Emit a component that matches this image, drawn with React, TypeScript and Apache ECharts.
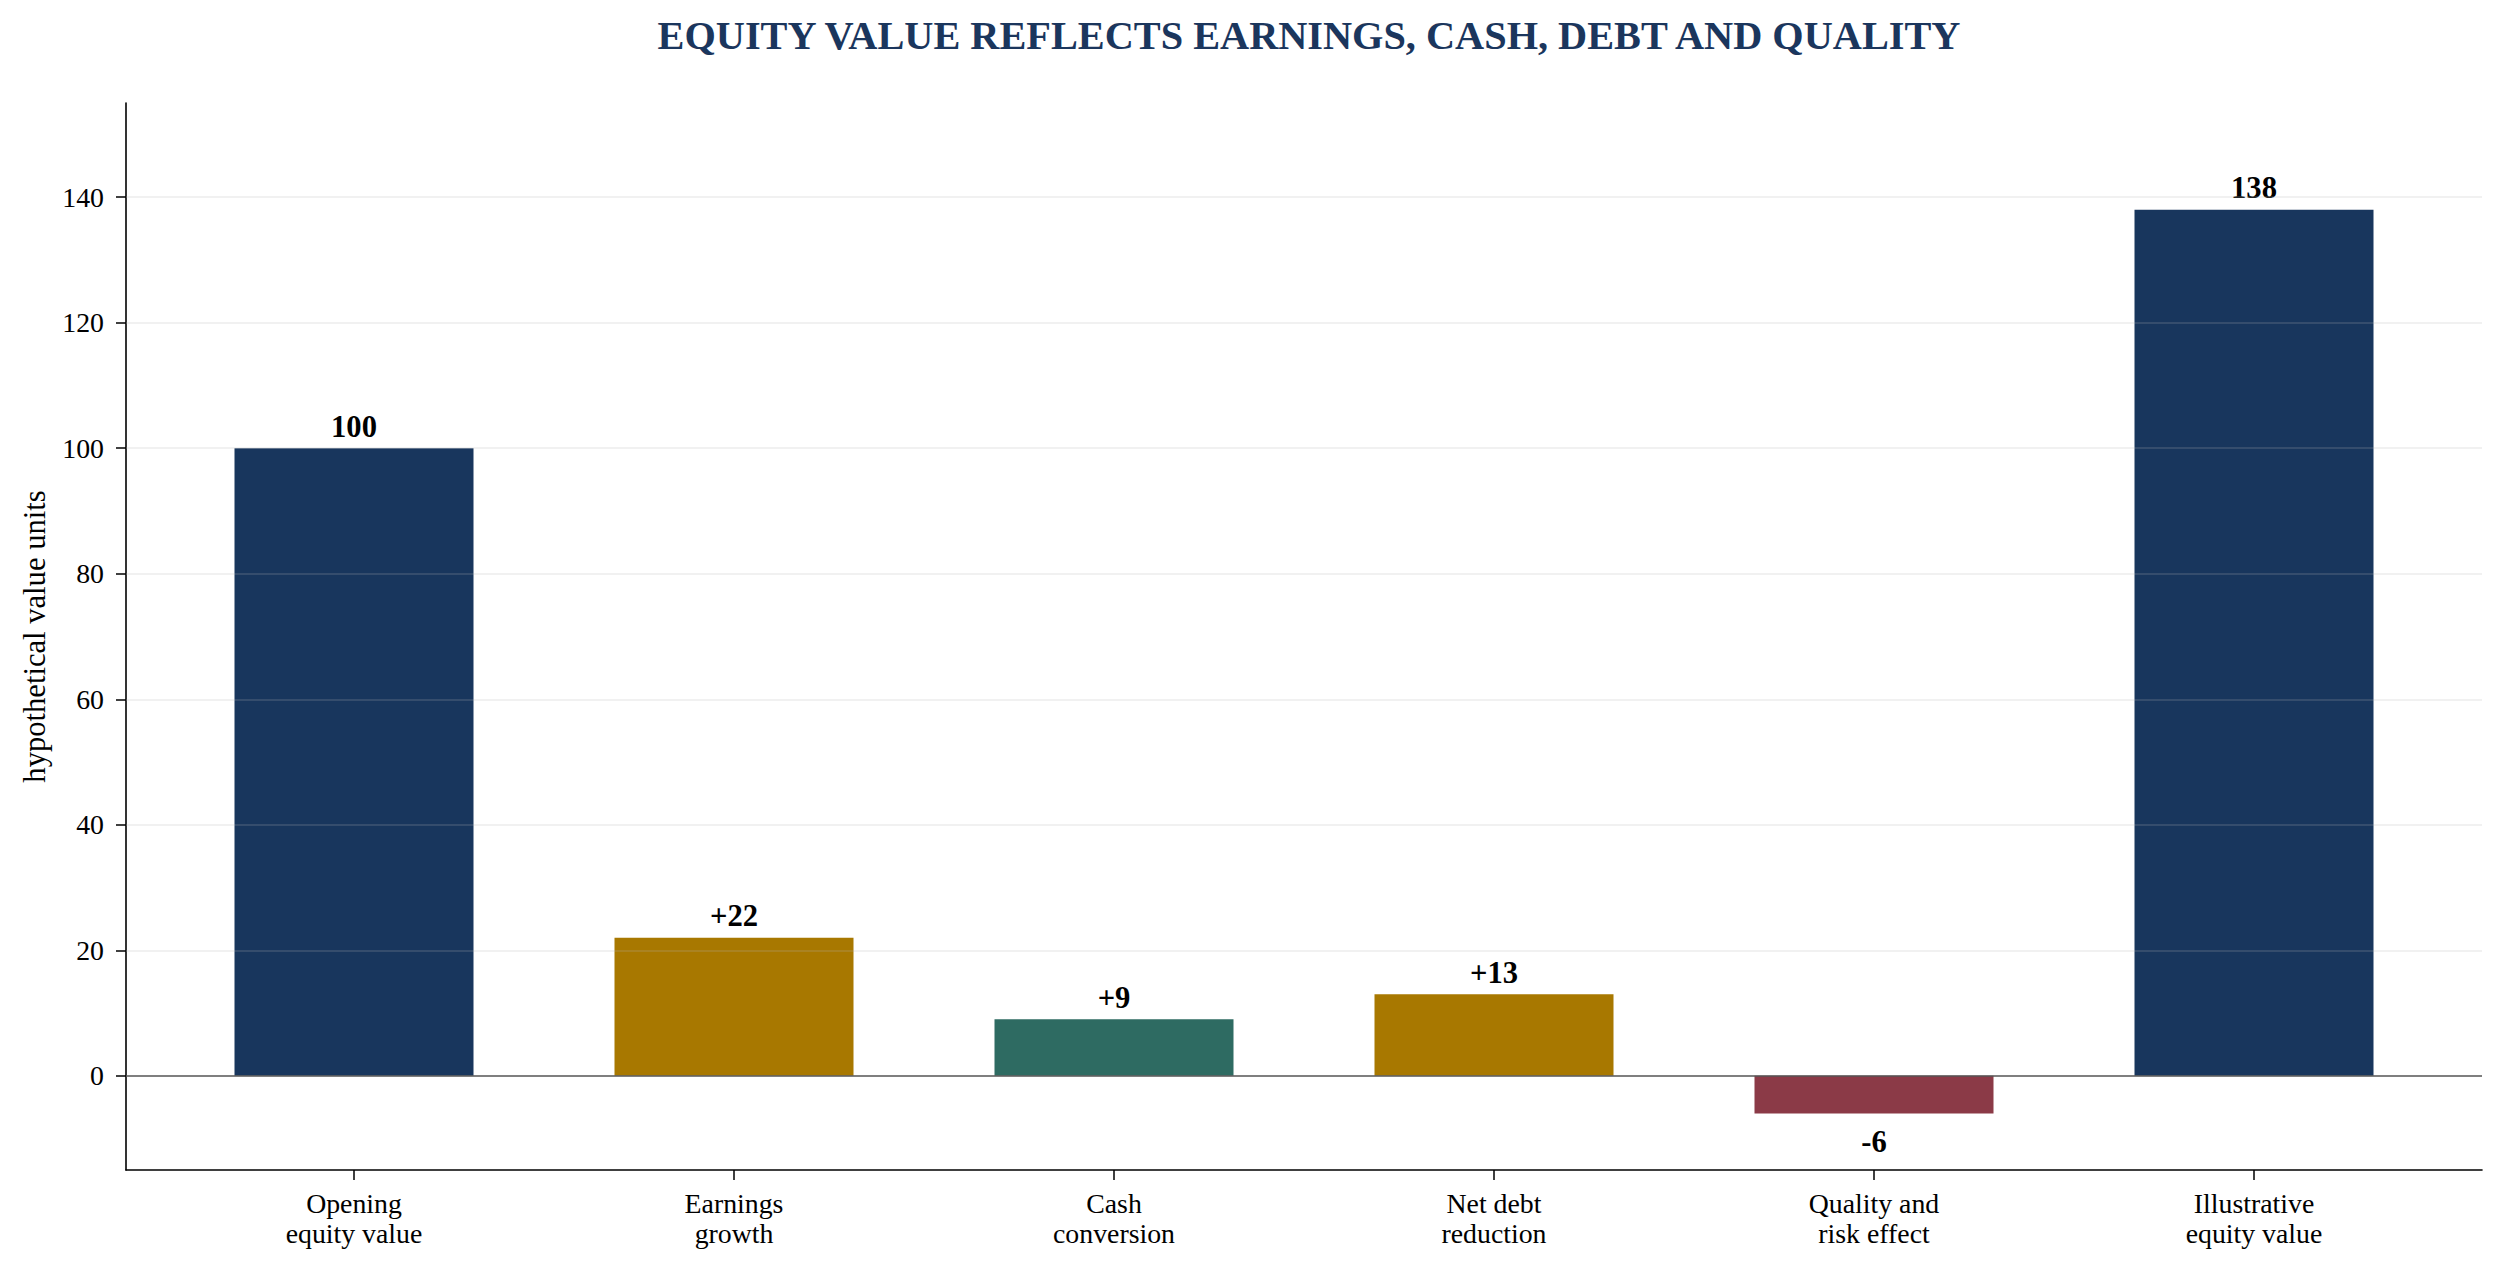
import React, { useEffect, useRef } from "react";
import * as echarts from "echarts";

const categories = [
  "Opening\nequity value",
  "Earnings\ngrowth",
  "Cash\nconversion",
  "Net debt\nreduction",
  "Quality and\nrisk effect",
  "Illustrative\nequity value",
];
const values = [100, 22, 9, 13, -6, 138];
const kinds = ["total", "delta", "delta", "delta", "delta", "total"];
const yTicks = [0, 20, 40, 60, 80, 100, 120, 140];
const xTicks = [0, 1, 2, 3, 4, 5];

const barColors = ["#18365d", "#a87800", "#2e6b62", "#a87800", "#8b3a47", "#18365d"];
const SERIF = "'Liberation Serif', 'Times New Roman', serif";

function fmt(v: number, kind: string) {
  if (kind === "total") return String(v);
  return (v > 0 ? "+" : "") + String(v);
}

export default function App() {
  const ref = useRef<HTMLDivElement>(null);
  useEffect(() => {
    if (!ref.current) return;
    const chart = echarts.init(ref.current, undefined, { renderer: "svg" });
    const data = values.map((v, i) => ({
      value: [i, v],
      itemStyle: { color: barColors[i] },
      label: {
        show: true,
        position: "outside",
        distance: v < 0 ? 13 : 6,
        formatter: () => fmt(v, kinds[i]),
      },
    }));
    chart.setOption({
      animation: false,
      backgroundColor: "#ffffff",
      title: {
        text: "EQUITY VALUE REFLECTS EARNINGS, CASH, DEBT AND QUALITY",
        left: 1304,
        top: 10,
        textAlign: "center",
        textStyle: {
          fontFamily: SERIF,
          fontWeight: "bold",
          fontSize: 40.3,
          color: "#1b365d",
        },
      },
      grid: {
        left: 126,
        right: 22,
        top: 103,
        bottom: 105,
        containLabel: false,
        outerBoundsMode: "none",
      },
      xAxis: {
        type: "value",
        min: -0.6,
        max: 5.6,
        splitLine: { show: false },
        axisLine: { show: true, onZero: false, lineStyle: { color: "#000", width: 1.6 } },
        axisTick: {
          show: true,
          customValues: xTicks,
          length: 10,
          lineStyle: { color: "#000", width: 1.5 },
        },
        axisLabel: {
          customValues: xTicks,
          formatter: (v: number) => categories[Math.round(v)] ?? "",
          fontFamily: SERIF,
          fontSize: 27.8,
          lineHeight: 30,
          color: "#000",
          margin: 18,
        },
      },
      yAxis: {
        type: "value",
        min: -15,
        max: 155,
        name: "hypothetical value units",
        nameLocation: "middle",
        nameGap: 76,
        nameTextStyle: { fontFamily: SERIF, fontSize: 30.6, color: "#000" },
        splitLine: { show: false },
        axisLine: { show: true, onZero: false, lineStyle: { color: "#000", width: 1.6 } },
        axisTick: {
          show: true,
          customValues: yTicks,
          length: 10,
          lineStyle: { color: "#000", width: 1.5 },
        },
        axisLabel: {
          customValues: yTicks,
          fontFamily: SERIF,
          fontSize: 27.8,
          color: "#000",
          margin: 22,
        },
      },
      series: [
        {
          type: "bar",
          data,
          barWidth: 239,
          label: {
            fontFamily: SERIF,
            fontWeight: "bold",
            fontSize: 30.6,
            color: "#000",
          },
          markLine: {
            silent: true,
            symbol: "none",
            label: { show: false },
            z: 5,
            data: [
              ...yTicks
                .filter((t) => t !== 0)
                .map((t) => ({
                  yAxis: t,
                  lineStyle: { color: "rgba(185,185,185,0.25)", width: 1.7, type: "solid" },
                })),
              { yAxis: 0, lineStyle: { color: "#555555", width: 1.6, type: "solid" } },
            ],
          },
        },
      ],
    });
    return () => chart.dispose();
  }, []);
  return (
    <div
      ref={ref}
      style={{ position: "absolute", left: 0, top: 0, width: "2504px", height: "1275px" }}
    />
  );
}
